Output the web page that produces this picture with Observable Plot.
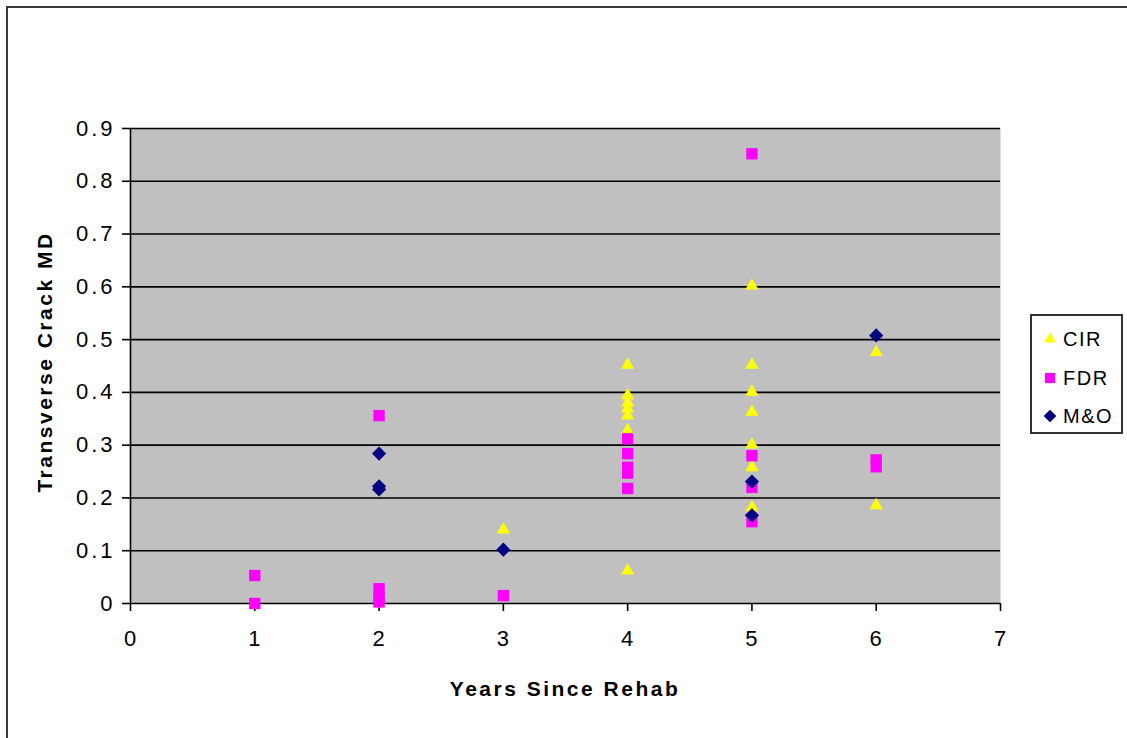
<!DOCTYPE html>
<html>
<head>
<meta charset="utf-8">
<script src="https://cdn.jsdelivr.net/npm/d3@7"></script>
<script src="https://cdn.jsdelivr.net/npm/@observablehq/plot@0.6"></script>
<style>
  html, body { margin: 0; padding: 0; background: #fff; }
  #wrap { position: relative; width: 1127px; height: 738px; overflow: hidden; font-family: "Liberation Sans", Arial, sans-serif; }
  #border { position: absolute; left: 6px; top: 6px; width: 1300px; height: 900px; border: 2px solid #3a3a3a; box-sizing: border-box; }
  #chart { position: absolute; left: 0; top: 0; }
  #chart g[aria-label="y-axis tick label"] text { letter-spacing: 3px; }
  #chart g[aria-label="x-axis tick label"] text { letter-spacing: 1px; }
  .title { position: absolute; font-weight: bold; font-size: 21px; letter-spacing: 2.5px; color: #000; white-space: nowrap; }
  #xtitle { left: 565px; top: 689px; transform: translate(-50%, -50%); }
  #ytitle { left: 45px; top: 362px; transform: translate(-50%, -50%) rotate(-90deg); }
  #legend { position: absolute; left: 1030px; top: 314px; width: 93px; height: 120px; border: 2px solid #333; box-sizing: border-box; background: #fff; }
  .lrow { position: absolute; left: 0; height: 24px; display: flex; align-items: center; }
  .lrow svg { position: absolute; left: 8px; }
  .lrow span { position: absolute; left: 31px; font-size: 20px; letter-spacing: 1.5px; line-height: 24px; white-space: nowrap; }
</style>
</head>
<body>
<div id="wrap">
  <div id="border"></div>
  <div id="chart"></div>
  <div id="xtitle" class="title">Years Since Rehab</div>
  <div id="ytitle" class="title">Transverse Crack MD</div>
  <div id="legend"></div>
</div>
<script>
// ---- Data ----
const seriesNames = ["CIR", "FDR", "M&O"];
const seriesColors = ["#FFFF00", "#FF00FF", "#000080"];
const seriesSymbols = ["triangle", "square", "diamond2"];

const cirYears = [2, 3, 4, 4, 4, 4, 4, 4, 4, 4, 5, 5, 5, 5, 5, 5, 5, 6, 6];
const cirMD    = [0, 0.14, 0.452, 0.394, 0.38, 0.369, 0.356, 0.328, 0.315, 0.062, 0.602, 0.452, 0.401, 0.363, 0.301, 0.258, 0.182, 0.476, 0.186];

const fdrYears = [1, 1, 2, 2, 2, 2, 3, 4, 4, 4, 4, 4, 5, 5, 5, 5, 6, 6];
const fdrMD    = [0.053, 0, 0.356, 0.028, 0.012, 0.003, 0.015, 0.312, 0.284, 0.258, 0.247, 0.218, 0.852, 0.28, 0.22, 0.155, 0.272, 0.259];

const moYears = [2, 2, 2, 3, 5, 5, 6];
const moMD    = [0.284, 0.222, 0.216, 0.102, 0.231, 0.167, 0.508];

const xTicks = [0, 1, 2, 3, 4, 5, 6, 7];
const yTicks = [0, 0.1, 0.2, 0.3, 0.4, 0.5, 0.6, 0.7, 0.8, 0.9];
const yTickLabels = ["0", "0.1", "0.2", "0.3", "0.4", "0.5", "0.6", "0.7", "0.8", "0.9"];

// ---- Build tables ----
const toRows = (xs, ys, s) => xs.map((x, i) => ({ years: x, md: ys[i], series: s }));
const cir = toRows(cirYears, cirMD, "CIR");
const fdr = toRows(fdrYears, fdrMD, "FDR");
const mo = toRows(moYears, moMD, "M&O");

const sizes = { "CIR": 4.9, "FDR": 6.4, "M&O": 6.4 };

const chart = Plot.plot({
  width: 1127,
  height: 738,
  marginLeft: 130,
  marginRight: 127,
  marginTop: 128,
  marginBottom: 135,
  style: { fontFamily: "'Liberation Sans', Arial, sans-serif", fontSize: "22px", color: "#000", background: "transparent", overflow: "visible" },
  x: { domain: [0, 7] },
  y: { domain: [0, 0.9] },
  color: { domain: seriesNames, range: seriesColors },
  symbol: { domain: seriesNames, range: seriesSymbols },
  marks: [
    Plot.frame({ fill: "#C0C0C0", stroke: "none" }),
    Plot.ruleY(yTicks.slice(1), { stroke: "#000", strokeWidth: 1.6 }),
    Plot.ruleX([0], { stroke: "#000", strokeWidth: 1.6 }),
    Plot.ruleY([0], { stroke: "#000", strokeWidth: 1.6 }),
    Plot.axisY({ ticks: yTicks, tickFormat: (d, i) => yTickLabels[i], tickSize: 8, tickPadding: 7, label: null, strokeWidth: 1.6, fontSize: 22 }),
    Plot.axisX({ ticks: xTicks, tickFormat: d => String(d), tickSize: 8, tickPadding: 19, label: null, strokeWidth: 1.6, fontSize: 22 }),
    Plot.dot(cir, { x: "years", y: "md", fill: "series", symbol: "series", r: sizes["CIR"], stroke: "none" }),
    Plot.dot(fdr, { x: "years", y: "md", fill: "series", symbol: "series", r: sizes["FDR"], stroke: "none" }),
    Plot.dot(mo, { x: "years", y: "md", fill: "series", symbol: "series", r: sizes["M&O"], stroke: "none" })
  ]
});
document.getElementById("chart").appendChild(chart);

// ---- Legend ----
const legend = document.getElementById("legend");
const rowTops = [11, 50, 88];
seriesNames.forEach((name, i) => {
  const row = document.createElement("div");
  row.className = "lrow";
  row.style.top = rowTops[i] + "px";
  const path = d3.symbol(
    { triangle: d3.symbolTriangle, square: d3.symbolSquare, diamond2: d3.symbolDiamond2 }[seriesSymbols[i]],
    Math.PI * sizes[name] * sizes[name] * 0.8
  )();
  row.innerHTML = `<svg width="20" height="24" viewBox="-10 -12 20 24"><path d="${path}" fill="${seriesColors[i]}"/></svg><span>${name.replace("&", "&amp;")}</span>`;
  legend.appendChild(row);
});
</script>
</body>
</html>
